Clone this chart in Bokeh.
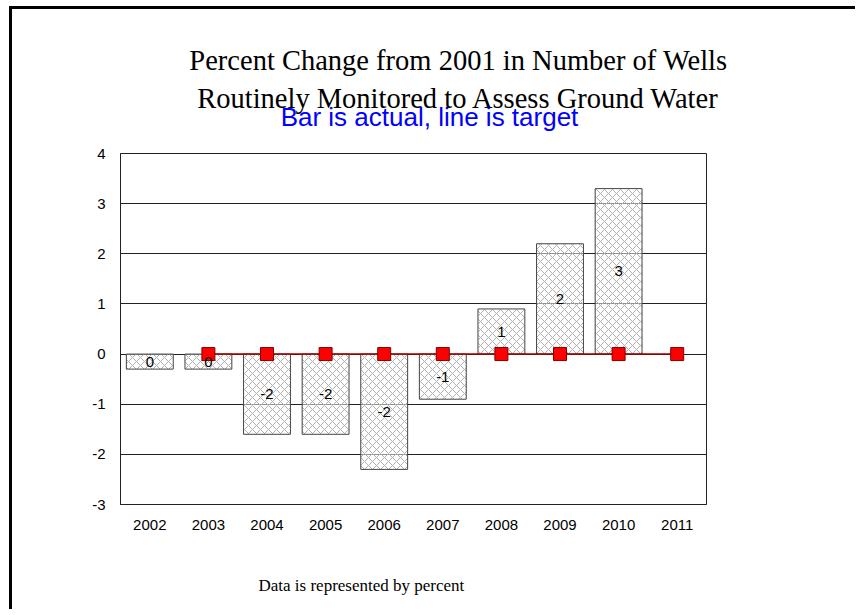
from bokeh.plotting import figure
from bokeh.layouts import column
from bokeh.models import LabelSet, ColumnDataSource, FixedTicker, Range1d
from bokeh.core.properties import value
from bokeh.embed import file_html
from bokeh.resources import INLINE

years = ["2002", "2003", "2004", "2005", "2006", "2007", "2008", "2009", "2010", "2011"]
actual = [-0.3, -0.3, -1.6, -1.6, -2.3, -0.9, 0.9, 2.2, 3.3, None]
bar_labels = ["0", "0", "-2", "-2", "-2", "-1", "1", "2", "3", ""]
target_years = ["2003", "2004", "2005", "2006", "2007", "2008", "2009", "2010", "2011"]
target = [0, 0, 0, 0, 0, 0, 0, 0, 0]
y_ticks = [-3, -2, -1, 0, 1, 2, 3, 4]

title_lines = ["Percent Change from 2001 in Number of Wells",
               "Routinely Monitored to Assess Ground Water"]
subtitle = "Bar is actual, line is target"
footer = "Data is represented by percent"

W = 843

def blank_fig(h):
    f = figure(width=W, height=h, x_range=Range1d(0, W), y_range=Range1d(h, 0),
               x_axis_type=None, y_axis_type=None, output_backend="svg",
               toolbar_location=None, min_border=0, title=None, frame_align=False)
    f.outline_line_color = None
    f.grid.grid_line_color = None
    return f

# ---- header ----
top = blank_fig(132)
top.text(x=[446, 446], y=[51, 89], text=title_lines, text_align="center",
         text_baseline="alphabetic", text_font=value("Liberation Serif"),
         text_font_size="28.5px", text_color="black")
top.text(x=[417], y=[107], text=[subtitle], text_align="center",
         text_baseline="alphabetic", text_font=value("Liberation Sans"),
         text_font_size="26px", text_color="#0000ff")

# ---- chart ----
bx = [y for y, v in zip(years, actual) if v is not None]
bv = [v for v in actual if v is not None]
bl = [l for l, v in zip(bar_labels, actual) if v is not None]
bar_src = ColumnDataSource(dict(x=bx, top=bv, mid=[v / 2 for v in bv], lab=bl))

p = figure(x_range=years, y_range=(-3, 4), width=W, height=400,
           output_backend="svg", toolbar_location=None, frame_align=False,
           min_border_left=108, min_border_right=149,
           min_border_top=12, min_border_bottom=37)

p.vbar(x="x", top="top", bottom=0, width=0.8, source=bar_src,
       fill_color="white", fill_alpha=0.5, line_color="#444444", line_width=1,
       hatch_pattern="diagonal_cross", hatch_color="#b0b0b0", hatch_scale=8,
       hatch_weight=1)

p.add_layout(LabelSet(x="x", y="mid", text="lab", source=bar_src,
                      text_align="center", text_baseline="middle",
                      text_font=value("Liberation Sans"), text_font_size="15px",
                      text_color="black"))

p.line(target_years, target, line_color="#a00000", line_width=1.5)
p.scatter(target_years, target, marker="square", size=13,
          fill_color="#ff0000", line_color="#800000", line_width=1)

p.xgrid.grid_line_color = None
p.ygrid.ticker = FixedTicker(ticks=y_ticks)
p.ygrid.grid_line_color = "#222222"
p.ygrid.grid_line_width = 1
p.outline_line_color = "#222222"

p.yaxis.ticker = FixedTicker(ticks=y_ticks)
p.yaxis.major_label_overrides = {t: str(t) for t in y_ticks}
for ax in (p.xaxis[0], p.yaxis[0]):
    ax.major_tick_line_color = None
    ax.minor_tick_line_color = None
    ax.axis_line_color = "#222222"
    ax.major_label_text_font = "Liberation Sans"
    ax.major_label_text_font_size = "15px"
    ax.major_label_text_color = "black"
    ax.major_label_standoff = 9

# ---- footer ----
bot = blank_fig(68)
bot.text(x=[246], y=[44], text=[footer], text_align="left",
         text_baseline="alphabetic", text_font=value("Liberation Serif"),
         text_font_size="17px", text_color="black")

layout = column(top, p, bot, spacing=0,
                styles={"margin-left": "9px", "margin-top": "6px",
                        "border-top": "3px solid black", "border-left": "3px solid black"})

open("out.html", "w").write(file_html(layout, INLINE))
